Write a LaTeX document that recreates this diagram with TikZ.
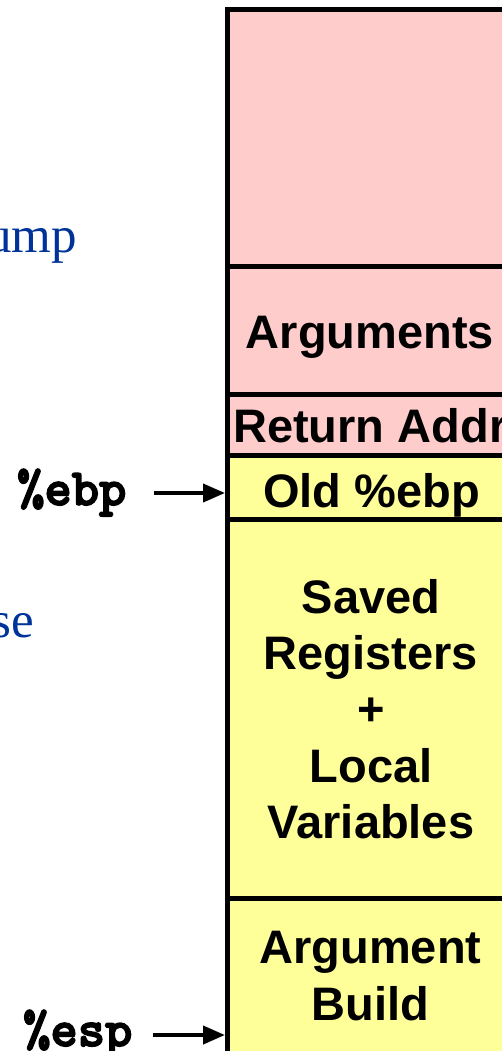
\documentclass[tikz,border=0pt]{standalone}
\usepackage{fontspec}
\setmainfont{Liberation Serif}
\newfontfamily\labelsans{Liberation Sans}
\newfontfamily\regmono{lmmonolt10-bold}[Extension=.otf, FakeBold=3]
\usetikzlibrary{arrows.meta}

\definecolor{framepink}{RGB}{255,204,204}
\definecolor{frameyellow}{RGB}{255,255,153}
\definecolor{noteblue}{RGB}{0,51,153}

\tikzset{
  cell/.style={draw=black, line width=5pt, rectangle, minimum width=287.5pt, inner sep=0pt},
  celltext/.style={font=\labelsans\bfseries\fontsize{47}{56}\selectfont, inner sep=0pt, anchor=base},
  reglabel/.style={font=\regmono\fontsize{52}{56}\selectfont, inner sep=0pt, anchor=base west},
  note/.style={font=\fontsize{51}{56}\selectfont, text=noteblue, inner sep=0pt, anchor=base east},
  ptr/.style={line width=4pt, -{Triangle[length=22pt,width=18pt]}}
}

\begin{document}
\begin{tikzpicture}[x=1pt,y=-1pt]
  \useasboundingbox (0,0) rectangle (502,1051);
  \clip (0,0) rectangle (502,1051);

  % stack cells, top of memory first
  \node[cell, fill=framepink,   minimum height=256pt] (caller) at (371.25,138)   {};
  \node[cell, fill=framepink,   minimum height=128pt] (args)   at (371.25,330)   {};
  \node[cell, fill=framepink,   minimum height=61pt]  (ret)    at (371.25,424.5) {};
  \node[cell, fill=frameyellow, minimum height=64pt]  (old)    at (371.25,487)   {};
  \node[cell, fill=frameyellow, minimum height=379pt] (saved)  at (371.25,708.5) {};
  \node[cell, fill=frameyellow, minimum height=156pt] (build)  at (371.25,976)   {};

  % cell captions
  \node[celltext] (argstext) at (370,348) {Arguments};
  \node[celltext, anchor=base west] (rettext) at (233,442) {Return Addr};
  \node[celltext] (oldtext) at (371.5,507) {Old \%ebp};
  \node[celltext] (savedA) at (371,613) {Saved};
  \node[celltext] (savedB) at (371,669) {Registers};
  \node[celltext] (savedC) at (371,725) {+};
  \node[celltext] (savedD) at (371,782) {Local};
  \node[celltext] (savedE) at (371,838) {Variables};
  \node[celltext] (buildA) at (370.5,963) {Argument};
  \node[celltext] (buildB) at (370.5,1020) {Build};

  % register pointers
  \node[reglabel] (ebp) at (17,505) {\%ebp};
  \node[reglabel] (esp) at (23,1046) {\%esp};
  \coordinate (ebptip) at (225,493);
  \coordinate (esptip) at (225,1035);
  \draw[ptr, shorten <=27pt] (ebp.east |- ebptip) -- (ebptip);
  \draw[ptr, shorten <=20pt] (esp.east |- esptip) -- (esptip);

  % side notes
  \node[note] (noteA) at (77,252) {ump};
  \node[note] (noteB) at (34,637) {se};
\end{tikzpicture}
\end{document}
